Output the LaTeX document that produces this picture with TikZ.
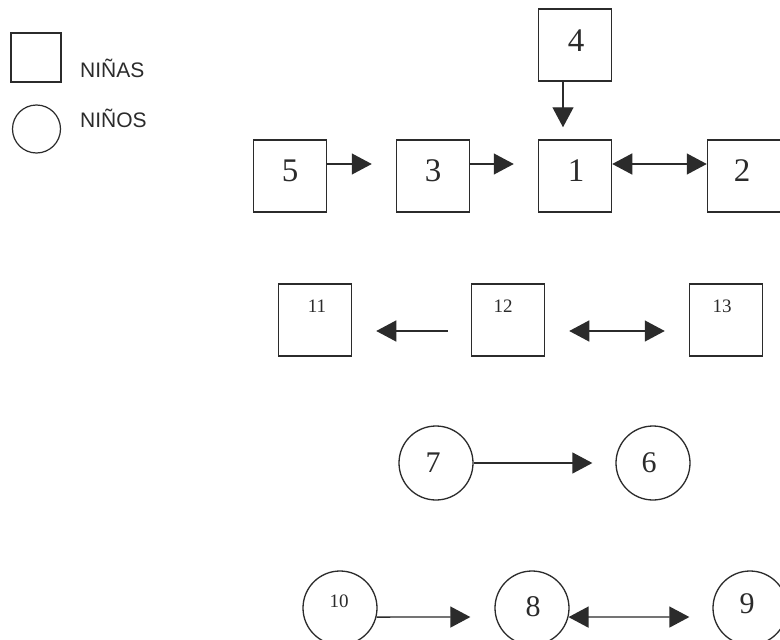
\documentclass[tikz,border=0pt]{standalone}
\usepackage{fontspec}
\setmainfont{Liberation Serif}
\newfontfamily\legfont{Liberation Sans}
\usetikzlibrary{arrows.meta}
\definecolor{ink}{HTML}{2B2B2B}
\begin{document}
\begin{tikzpicture}[x=1pt,y=-1pt,
  girl/.style={draw=ink,line width=1.5pt,minimum width=73pt,minimum height=72pt,inner sep=0pt},
  boy/.style={draw=ink,line width=1.3pt,circle,minimum size=74pt,inner sep=0pt},
  numL/.style={font=\fontsize{33}{33}\selectfont,text=ink,inner sep=0pt},
  numM/.style={font=\fontsize{30}{30}\selectfont,text=ink,inner sep=0pt},
  numS/.style={font=\fontsize{19}{19}\selectfont,text=ink,inner sep=0pt},
  arr/.style={draw=ink,line width=1.3pt,-{Triangle[length=20pt,width=21pt]}},
  darr/.style={draw=ink,line width=1.3pt,{Triangle[length=20pt,width=21pt]}-{Triangle[length=20pt,width=21pt]}},
  leg/.style={font=\legfont\fontsize{21}{21}\selectfont,text=ink,inner sep=0pt,anchor=base west}]
\fill[white] (0,0) rectangle (780,640);
\useasboundingbox (0,0) rectangle (780,640);
% legend
\node[draw=ink,line width=1.3pt,minimum width=50pt,minimum height=49pt,inner sep=0pt] (lg) at (36,57.5) {};
\node[leg] (lgt) at (80,77) {NIÑAS};
\node[draw=ink,line width=1.2pt,circle,minimum size=48pt,inner sep=0pt] (lb) at (36.5,129) {};
\node[leg] (lbt) at (80,127) {NIÑOS};
% row 1
\node[girl] (n4) at (575,45) {};
\node[girl] (n5) at (290,176) {};
\node[girl] (n3) at (433,176) {};
\node[girl] (n1) at (575,176) {};
\node[girl] (n2) at (744,176) {};
\node[numL] (t4) at (576,41) {4};
\node[numL] (t5) at (290,171) {5};
\node[numL] (t3) at (433,171) {3};
\node[numL] (t1) at (576,171) {1};
\node[numL] (t2) at (742,171) {2};
\draw[arr,shorten >=24pt] ([yshift=12pt]n5.east) -- ([yshift=12pt]n3.west);
\draw[arr,shorten >=24pt] ([yshift=12pt]n3.east) -- ([yshift=12pt]n1.west);
\draw[darr] ([yshift=12pt]n1.east) -- ([yshift=12pt]n2.west);
\draw[arr,shorten >=12pt] ([xshift=-12pt]n4.south) -- ([xshift=-12pt]n1.north);
% row 2
\node[girl] (n11) at (315,320) {};
\node[girl] (n12) at (508,320) {};
\node[girl] (n13) at (726,320) {};
\node[numS] (t11) at (317,306) {11};
\node[numS] (t12) at (503,306) {12};
\node[numS] (t13) at (722,306) {13};
\draw[arr,shorten <=23pt,shorten >=24pt] ([yshift=-11pt]n12.west) -- ([yshift=-11pt]n11.east);
\draw[darr,shorten <=24pt,shorten >=24pt] ([yshift=-11pt]n12.east) -- ([yshift=-11pt]n13.west);
% row 3
\node[boy] (n7) at (436,463) {};
\node[boy] (n6) at (653,463) {};
\node[numM] (t7) at (433,463) {7};
\node[numM] (t6) at (649,463) {6};
\draw[arr,shorten >=23pt] (n7.east) -- (n6.west);
% row 4
\node[boy] (n10) at (340,608) {};
\node[boy] (n8) at (532,608) {};
\node[boy] (n9) at (750,608) {};
\node[numS] (t10) at (339,601) {10};
\node[numM] (t8) at (533,607) {8};
\node[numM] (t9) at (747,604) {9};
\draw[arr,shorten >=24pt] (n10.-14) -- ([yshift=-9pt]n8.west);
\draw[darr,shorten >=23pt] (n8.-14) -- ([yshift=-9pt]n9.west);
\end{tikzpicture}
\end{document}
